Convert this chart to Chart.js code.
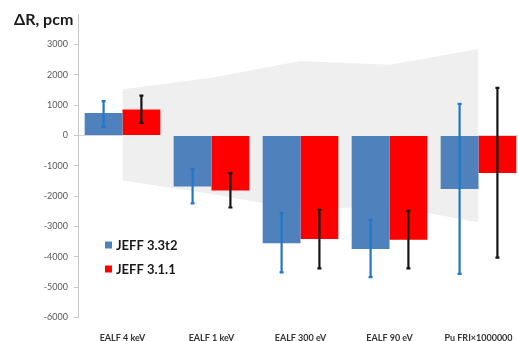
<!DOCTYPE html>
<html>
<head>
<meta charset="utf-8">
<script src="https://cdn.jsdelivr.net/npm/chart.js@4/dist/chart.umd.min.js"></script>
<style>
  html, body { margin: 0; padding: 0; background: #fff; overflow: hidden; }
  #wrap { width: 518px; height: 341px; overflow: hidden; }
  canvas { display: block; }
</style>
</head>
<body>
<div id="wrap"><canvas id="c" width="530" height="341"></canvas></div>
<script>
// Reactivity differences, pcm
const categories = ['EALF 4 keV', 'EALF 1 keV', 'EALF 300 eV', 'EALF 90 eV', 'Pu FRI×1000000'];
const seriesNames = ['JEFF 3.3t2', 'JEFF 3.1.1'];

const jeff33 = [740, -1680, -3550, -3745, -1770];
const jeff33Low = [280, -2240, -4510, -4670, -4565];
const jeff33High = [1130, -1110, -2560, -2780, 1040];

const jeff311 = [850, -1815, -3410, -3440, -1240];
const jeff311Low = [410, -2375, -4380, -4380, -4030];
const jeff311High = [1310, -1240, -2450, -2485, 1565];

// Uncertainty band
const bandUpper = [1520, 1900, 2450, 2330, 2850];
const bandLower = [-1490, -1930, -2450, -2330, -2860];

const yTicks = { min: -6000, max: 4000, step: 1000 };

const FONT = 'Lato, "Open Sans", "Liberation Sans", sans-serif';
const BLUE = '#4f81bd';
const RED = '#ff0000';
const AXIS_GREY = '#c8c8c8';

const errorBars = {
  id: 'errorBars',
  afterDatasetsDraw(chart) {
    const ctx = chart.ctx;
    const y = chart.scales.y;
    const sets = [
      { idx: 2, low: jeff33Low, high: jeff33High, color: '#2277c6' },
      { idx: 3, low: jeff311Low, high: jeff311High, color: '#151515' }
    ];
    ctx.save();
    ctx.lineWidth = 2.2;
    ctx.lineCap = 'butt';
    sets.forEach(s => {
      const meta = chart.getDatasetMeta(s.idx);
      meta.data.forEach((bar, i) => {
        const x = bar.x;
        const yl = y.getPixelForValue(s.low[i]);
        const yh = y.getPixelForValue(s.high[i]);
        ctx.strokeStyle = s.color;
        ctx.beginPath();
        ctx.moveTo(x, yh);
        ctx.lineTo(x, yl);
        ctx.stroke();
        ctx.beginPath();
        ctx.moveTo(x - 2, yh); ctx.lineTo(x + 2, yh);
        ctx.moveTo(x - 2, yl); ctx.lineTo(x + 2, yl);
        ctx.stroke();
      });
    });
    ctx.restore();
  }
};

const decorations = {
  id: 'decorations',
  beforeDatasetsDraw(chart) {
    // small category separator ticks on the zero line
    const ctx = chart.ctx;
    const x = chart.scales.x;
    const y0 = chart.scales.y.getPixelForValue(0);
    ctx.save();
    ctx.strokeStyle = AXIS_GREY;
    ctx.lineWidth = 1;
    for (let i = 0; i < categories.length - 1; i++) {
      const xb = Math.round((x.getPixelForValue(i) + x.getPixelForValue(i + 1)) / 2) + 0.5;
      ctx.beginPath();
      ctx.moveTo(xb, y0);
      ctx.lineTo(xb, y0 + 4);
      ctx.stroke();
    }
    ctx.restore();
  },
  afterDraw(chart) {
    const ctx = chart.ctx;
    ctx.save();
    // axis title
    ctx.fillStyle = '#1a1a1a';
    ctx.font = 'bold 16px ' + FONT;
    ctx.textBaseline = 'middle';
    ctx.textAlign = 'left';
    ctx.fillText('ΔR, pcm', 14, 20);
    // legend
    const items = [
      { name: seriesNames[0], color: BLUE, y: 245 },
      { name: seriesNames[1], color: RED, y: 269 }
    ];
    ctx.font = 'bold 13px ' + FONT;
    items.forEach(it => {
      ctx.fillStyle = it.color;
      ctx.fillRect(105, it.y - 3.5, 7, 7);
      ctx.fillStyle = '#1a1a1a';
      ctx.fillText(it.name, 116, it.y + 0.5);
    });
    ctx.restore();
  }
};

new Chart(document.getElementById('c'), {
  type: 'bar',
  data: {
    labels: categories,
    datasets: [
      {
        type: 'line', data: bandUpper, borderWidth: 0, pointRadius: 0,
        borderColor: 'rgba(0,0,0,0)', fill: false, order: 3, tension: 0
      },
      {
        type: 'line', data: bandLower, borderWidth: 0, pointRadius: 0,
        borderColor: 'rgba(0,0,0,0)', backgroundColor: '#efefef', fill: '-1', order: 3, tension: 0
      },
      { label: seriesNames[0], data: jeff33, backgroundColor: BLUE, order: 1 },
      { label: seriesNames[1], data: jeff311, backgroundColor: RED, order: 1 }
    ]
  },
  options: {
    responsive: false,
    animation: false,
    devicePixelRatio: 1,
    layout: { padding: { top: 14, right: 7, left: 0, bottom: 0 } },
    datasets: { bar: { categoryPercentage: 0.85, barPercentage: 1 } },
    plugins: { legend: { display: false }, tooltip: { enabled: false } },
    scales: {
      x: {
        grid: { display: false },
        border: { display: false },
        ticks: {
          padding: 7, autoSkip: false, maxRotation: 0,
          color: '#333333', font: { family: FONT, weight: 'bold', size: 9 }
        },
        afterFit(s) { s.height = 23.5; }
      },
      y: {
        min: yTicks.min, max: yTicks.max,
        ticks: {
          stepSize: yTicks.step, padding: 6,
          color: '#595959', font: { family: FONT, size: 9 },
          callback: v => (v === yTicks.max ? '' : String(v))
        },
        grid: {
          color: c => (c.tick && c.tick.value === 0 ? '#d4d4d4' : 'rgba(0,0,0,0)'),
          tickLength: 4,
          tickColor: c => (c.tick && c.tick.value === yTicks.max ? 'rgba(0,0,0,0)' : AXIS_GREY)
        },
        border: { color: AXIS_GREY },
        afterFit(s) { s.width = 78; }
      }
    }
  },
  plugins: [errorBars, decorations]
});
</script>
</body>
</html>
